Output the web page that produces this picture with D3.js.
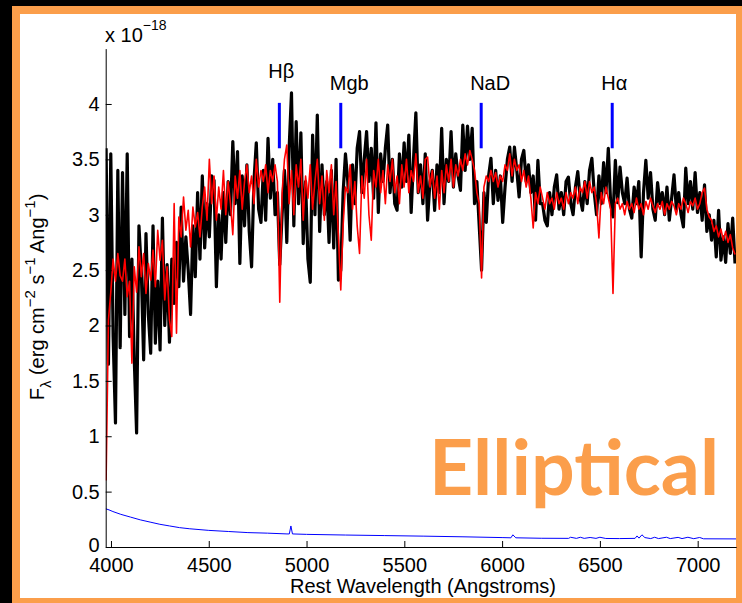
<!DOCTYPE html>
<html>
<head>
<meta charset="utf-8">
<script src="https://cdn.jsdelivr.net/npm/d3@7"></script>
<style>
  body { margin: 0; background: #000; }
  svg { display: block; }
  .tick text { font-family: "Liberation Sans", Arial, sans-serif; font-size: 20px; fill: #000; }
  .lbl { font-family: "Liberation Sans", Arial, sans-serif; font-size: 20px; fill: #000; }
</style>
</head>
<body>
<div id="chart"></div>
<script>
// observed spectrum (black) and model fit (red), flux in units of 1e-18, on a 12 A grid from 3975 A
var waveGrid = d3.range(3975, 7200, 12);
var fluxObs = [
  3.6, 1.65, 3.55, 1.9, 1.12, 3.4, 1.8, 3.38, 2.1, 3.55, 1.9, 2.6, 1.7, 1.03, 2.9,
  2.5, 1.69, 2.83, 2.1, 1.75, 2.9, 1.84, 2.4, 1.78, 2.97, 2.0, 2.55, 1.85, 2.6, 2.2, 2.75, 2.35, 3.07, 2.4, 2.8, 2.5, 2.1, 2.9, 2.44, 3.2, 2.6, 3.35, 2.7, 3.1,
  2.8, 3.35, 3.31, 2.35, 3.0, 2.6, 3.2, 2.75, 3.3, 3.0, 3.66, 3.1, 3.57, 2.56, 3.35, 2.9, 3.45, 2.85, 2.53, 3.3, 3.65, 3.05, 2.93, 3.4, 2.95, 3.69, 3.15, 3.5, 3.0,
  3.2, 2.55, 3.0, 3.4, 2.75, 3.6, 4.1, 2.9, 3.84, 3.1, 3.74, 2.74, 3.3, 2.6, 2.39, 3.72, 3.0, 3.9, 2.85, 3.45, 3.0, 3.3, 2.75, 3.4, 2.7, 3.5, 2.41, 2.5, 3.2, 3.55,
  3.3, 2.77, 3.45, 3.1, 3.6, 3.75, 3.2, 3.5, 3.75, 3.3, 3.6, 3.15, 3.83, 3.02, 3.55, 3.3, 3.6, 3.81, 3.2, 3.5, 3.1, 3.04, 3.55, 3.25, 3.65, 3.3, 3.72, 3.02, 3.5, 3.92, 3.2, 3.45, 3.1, 3.55, 2.95, 3.3, 3.4,
  3.04, 3.45, 3.2, 3.78, 3.1, 3.5, 3.3, 3.75, 3.25, 3.55, 3.35, 3.22, 3.81, 3.4, 3.8, 3.5, 3.78, 3.1, 3.3, 2.9, 2.5,
  3.2, 2.93, 3.35, 3.51, 3.1, 3.4, 3.13, 3.35, 2.93, 3.25, 3.5, 3.61, 3.3, 3.61, 3.4, 3.16, 3.5, 3.58, 3.3, 3.45, 3.2, 3.35, 2.95, 3.49, 3.1,
  3.1, 2.95, 2.9, 3.2, 3.0, 3.25, 3.36, 3.05, 3.2, 3.0, 3.3, 3.34, 3.1, 3.0, 3.25, 3.39, 3.15, 3.04, 3.3, 3.1, 3.4, 3.51, 3.2, 3.0, 3.35, 3.1, 3.47, 3.2, 3.6, 3.1,
  2.98, 3.49, 3.11, 3.43, 3.2, 3.1, 3.33, 3.05, 2.97, 3.25, 3.1, 3.3, 2.62, 3.2, 3.49, 3.15, 3.38, 3.05, 2.95, 3.29, 3.1, 3.2, 3.0, 3.25, 2.95, 3.15, 3.36, 3.05, 3.2, 3.0, 2.89, 3.42, 3.1, 3.3, 3.05, 3.38, 3.02,
  3.2, 2.95, 3.27, 2.85, 3.0, 2.77, 2.95, 2.62, 3.04, 2.59, 2.8, 2.57, 2.92, 2.65, 2.97, 2.56
];
var fluxModel = [
  0.6, 2.05, 2.3, 2.6, 2.4, 2.65, 2.45, 2.4, 2.6, 2.26, 2.4, 1.66, 2.53, 2.3, 2.71,
  2.44, 2.65, 2.29, 2.56, 2.41, 2.68, 2.35, 2.86, 2.59, 2.77, 2.23, 2.53, 2.05, 1.9, 3.1, 1.93, 2.98, 2.8, 3.16, 2.86, 3.04, 2.71, 3.07, 2.89, 3.02, 2.8, 3.07, 3.25, 2.95,
  3.5, 3.1, 3.35, 2.95, 3.25, 3.05, 3.4, 3.0, 3.3, 3.1, 2.82, 3.35, 3.15, 3.4, 3.05, 3.3, 3.45, 3.2, 3.35, 3.1, 3.5, 3.25, 3.4, 3.3, 3.45, 3.2, 3.4, 3.3, 3.45,
  3.3, 2.21, 3.2, 3.5, 3.63, 3.1, 3.4, 3.0, 3.45, 3.25, 3.5, 2.95, 3.35, 3.15, 3.45, 3.05, 3.3, 3.5, 3.1, 3.35, 2.95, 3.4, 3.2, 3.45, 3.0, 3.3, 2.8, 2.32, 2.9, 3.25,
  3.2, 3.45, 3.05, 3.3, 2.9, 2.65, 3.35, 3.15, 3.5, 3.0, 2.77, 3.4, 3.25, 3.5, 3.2, 3.4, 3.1, 3.45, 3.3, 3.5, 3.2, 3.35, 3.1, 3.45, 3.25, 3.5, 3.2, 3.4, 3.3, 3.55, 3.2, 3.35, 3.15, 3.5, 3.52, 3.25, 3.4,
  3.15, 3.35, 3.05, 3.4, 3.2, 3.45, 3.3, 3.5, 3.25, 3.45, 3.35, 3.5, 3.4, 3.55, 3.45, 3.58, 3.5, 3.4, 3.2, 3.1, 2.43,
  3.25, 3.35, 3.3, 3.4, 3.3, 3.38, 3.25, 3.35, 3.3, 3.45, 3.4, 3.55, 3.35, 3.5, 3.4, 3.45, 3.3, 3.4, 3.25, 3.35, 3.15, 2.88, 3.2, 3.1, 3.25,
  3.15, 3.05, 3.2, 3.1, 3.15, 3.05, 3.2, 3.1, 3.15, 3.05, 3.2, 3.1, 3.2, 3.15, 3.25, 3.1, 3.25, 3.2, 3.3, 3.15, 3.3, 3.2, 3.25, 3.1, 2.79, 3.2, 3.1, 3.25, 3.15, 3.05,
  2.29, 3.1, 3.15, 3.05, 3.1, 3.0, 3.12, 3.05, 3.1, 3.02, 3.15, 3.05, 3.1, 3.0, 3.12, 3.05, 3.15, 3.08, 3.02, 3.1, 3.05, 3.12, 3.0, 3.1, 3.05, 3.12, 3.08, 3.0, 3.1, 3.05, 3.15, 3.1, 3.02, 3.12, 3.08, 3.15, 3.05,
  3.1, 3.2, 3.24, 3.05, 2.98, 2.95, 2.85, 2.9, 2.8, 2.87, 2.77, 2.85, 2.75, 2.82, 2.7, 2.64
];

// error spectrum (blue)
var errWave = [3973, 3990, 4010, 4050, 4100, 4150, 4200, 4250, 4300, 4350, 4400, 4500, 4600, 4700, 4800, 4900, 4912, 4920, 4928, 5000, 5200, 5400, 5600, 5800, 6000, 6045, 6055, 6070, 6200, 6340, 6350, 6380, 6400, 6420, 6450, 6480, 6500, 6530, 6600, 6680, 6690, 6700, 6715, 6730, 6760, 6780, 6800, 6840, 6860, 6900, 6920, 6950, 6980, 7010, 7030, 7200];
var errFlux = [0.345, 0.335, 0.32, 0.295, 0.27, 0.245, 0.225, 0.205, 0.19, 0.175, 0.165, 0.15, 0.14, 0.13, 0.125, 0.118, 0.118, 0.19, 0.118, 0.114, 0.108, 0.103, 0.098, 0.092, 0.085, 0.083, 0.11, 0.083, 0.079, 0.078, 0.088, 0.078, 0.088, 0.078, 0.086, 0.078, 0.088, 0.077, 0.076, 0.078, 0.1, 0.08, 0.11, 0.085, 0.076, 0.088, 0.076, 0.088, 0.076, 0.087, 0.076, 0.088, 0.075, 0.086, 0.074, 0.073];

// absorption features
var lineNames = ["H\u03b2", "Mgb", "NaD", "H\u03b1"];
var lineWaves = [4861, 5175, 5893, 6563];

var xTicks = [4000, 4500, 5000, 5500, 6000, 6500, 7000];
var yTicks = [0, 0.5, 1, 1.5, 2, 2.5, 3, 3.5, 4];

var W = 742, H = 603;
var orange = "#fb9e4b";

var svg = d3.select("#chart").append("svg")
	.attr("width", W)
	.attr("height", H);

// frame
svg.append("rect").attr("width", W).attr("height", H).attr("fill", "#000");
svg.append("rect").attr("x", 12).attr("y", 6).attr("width", W).attr("height", H).attr("fill", orange);
svg.append("rect").attr("x", 20).attr("y", 14).attr("width", 716).attr("height", 584).attr("fill", "#fff");

var x = d3.scaleLinear().domain([3973, 7197]).range([105.7, 736.2]);
var y = d3.scaleLinear().domain([0, 4.5]).range([547, 48.6]);

svg.append("clipPath").attr("id", "plotclip")
	.append("rect")
	.attr("x", 105.7).attr("y", 14)
	.attr("width", 736 - 105.7).attr("height", 547 - 14);

var plot = svg.append("g").attr("clip-path", "url(#plotclip)");

var line = d3.line()
	.x(function(d) { return x(d[0]); })
	.y(function(d) { return y(d[1]); });

plot.append("path")
	.datum(d3.zip(waveGrid, fluxObs))
	.attr("d", line)
	.attr("fill", "none")
	.attr("stroke", "#000")
	.attr("stroke-width", 3.2)
	.attr("stroke-linejoin", "round");

plot.append("path")
	.datum(d3.zip(waveGrid, fluxModel))
	.attr("d", line)
	.attr("fill", "none")
	.attr("stroke", "#ff0000")
	.attr("stroke-width", 1.6)
	.attr("stroke-linejoin", "round");

plot.append("path")
	.datum(d3.zip(errWave, errFlux))
	.attr("d", line)
	.attr("fill", "none")
	.attr("stroke", "#0000ff")
	.attr("stroke-width", 1);

// axes
var gx = svg.append("g")
	.attr("transform", "translate(0," + y(0) + ")")
	.call(d3.axisBottom(x).tickValues(xTicks).tickSize(-6).tickSizeOuter(0).tickPadding(11).tickFormat(d3.format("d")));
var gy = svg.append("g")
	.attr("transform", "translate(" + x(3973) + ",0)")
	.call(d3.axisLeft(y).tickValues(yTicks).tickSize(-6).tickSizeOuter(0).tickPadding(6).tickFormat(function(d) { return String(d); }));
svg.selectAll(".domain").attr("stroke", "#000");
svg.selectAll(".tick line").attr("stroke", "#000");
// the zero label sits just above the 4000 label, as in the original
gy.selectAll(".tick text").filter(function(d) { return d === 0; }).attr("dy", "0.2em");

// feature markers
lineWaves.forEach(function(w, i) {
	svg.append("line")
		.attr("x1", x(w)).attr("x2", x(w))
		.attr("y1", y(3.6)).attr("y2", y(4.01))
		.attr("stroke", "#0000ff")
		.attr("stroke-width", 3);
	svg.append("text")
		.attr("class", "lbl")
		.attr("font-size", "21px")
		.attr("x", x(w) - 11)
		.attr("y", i == 0 ? 78 : 90)
		.text(lineNames[i]);
});

// exponent label
var ex = svg.append("text").attr("class", "lbl").attr("x", 105).attr("y", 42);
ex.append("tspan").text("x 10");
ex.append("tspan").attr("dy", -12).attr("font-size", "14px").text("\u221218");

// axis titles
svg.append("text").attr("class", "lbl")
	.attr("x", 423).attr("y", 593)
	.attr("font-size", "22px")
	.attr("text-anchor", "middle")
	.text("Rest Wavelength (Angstroms)");

var yl = svg.append("text").attr("class", "lbl")
	.attr("font-size", "22px")
	.attr("transform", "translate(44,297) rotate(-90)")
	.attr("text-anchor", "middle");
yl.append("tspan").text("F");
yl.append("tspan").attr("dy", 7).attr("font-size", "15px").text("\u03bb");
yl.append("tspan").attr("dy", -7).text(" (erg cm");
yl.append("tspan").attr("dy", -9).attr("font-size", "15px").text("\u22122");
yl.append("tspan").attr("dy", 9).text(" s");
yl.append("tspan").attr("dy", -9).attr("font-size", "15px").text("\u22121");
yl.append("tspan").attr("dy", 9).text(" Ang");
yl.append("tspan").attr("dy", -9).attr("font-size", "15px").text("\u22121");
yl.append("tspan").attr("dy", 9).text(")");

// galaxy type
svg.append("text")
	.attr("x", 429).attr("y", 495)
	.attr("font-family", "Lato, 'Open Sans', sans-serif")
	.attr("font-weight", "bold")
	.attr("font-size", "77px")
	.attr("fill", orange)
	.text("Elliptical");
</script>
</body>
</html>
